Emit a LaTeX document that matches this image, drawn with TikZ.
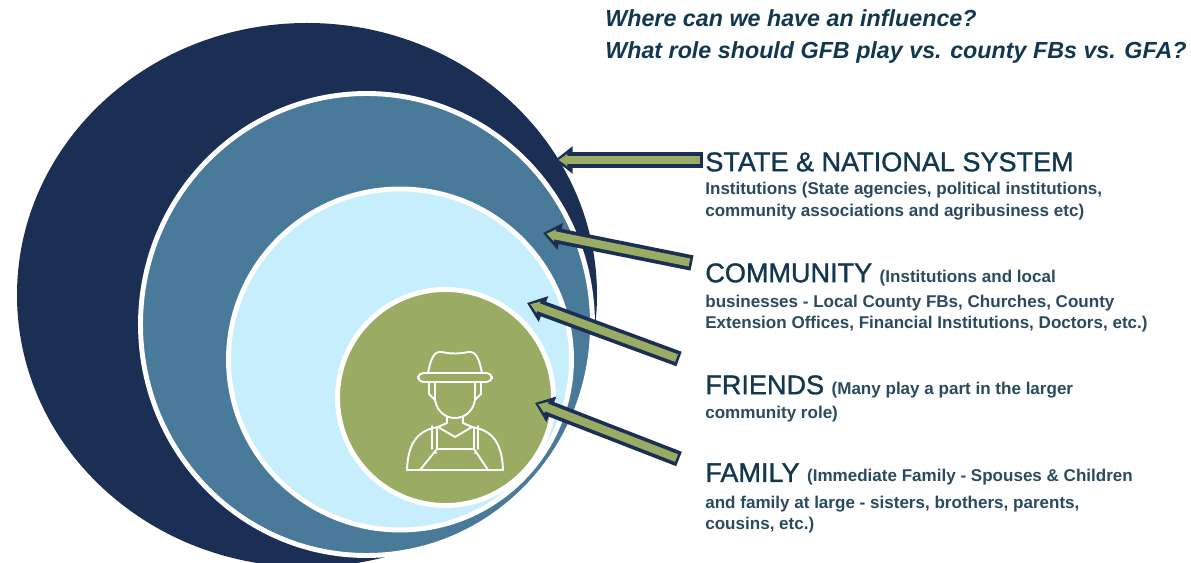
\documentclass[tikz,border=0pt]{standalone}
\usepackage{fontspec}
\setmainfont{Liberation Sans}
\newfontfamily\headface[FakeBold=1.2]{Liberation Sans}
\usetikzlibrary{arrows.meta}
\definecolor{ringdark}{HTML}{1B2F55}
\definecolor{ringmid}{HTML}{4A7A99}
\definecolor{ringlight}{HTML}{C6EEFD}
\definecolor{ringolive}{HTML}{9AAB63}
\definecolor{headcol}{HTML}{12384F}
\definecolor{bodycol}{HTML}{2A4A5E}
\newcommand{\headfont}{\headface\fontsize{15.4}{18}\selectfont}
\newcommand{\bodyfont}{\normalfont\fontsize{9.7}{12.6}\selectfont\bfseries\color{bodycol}}
\tikzset{
  x=0.02cm, y=-0.02cm,
  ring/.style={draw=white, line width=2.8pt},
  labeltext/.style={anchor=north west, inner sep=0pt, align=left, text=headcol},
  titletext/.style={anchor=north west, inner sep=0pt, align=left, text=headcol,
    font=\fontsize{13.25}{18.1}\selectfont\bfseries\itshape},
  arrowback/.style={draw=ringdark, line width=8.8pt,
    -{Triangle[length=10pt,width=15pt]}},
  arrowfront/.style={draw=ringolive, line width=4.6pt, shorten >=2pt, shorten <=1.5pt,
    -{Triangle[length=5pt,width=6.5pt]}},
  farmer/.style={draw=white, line width=1.1pt, line join=round, line cap=round},
}
\begin{document}
\begin{tikzpicture}
\useasboundingbox (0,0) rectangle (1191,563);
% circles
\fill[ringdark] (307,295) ellipse [x radius=290, y radius=272];
\filldraw[ring, fill=ringmid] (366.5,324.5) ellipse [x radius=226, y radius=231];
\filldraw[ring, fill=ringlight] (400,359.5) ellipse [x radius=171.5, y radius=170.5];
\filldraw[ring, fill=ringolive] (445.5,397.5) ellipse [x radius=108, y radius=108];
% farmer
\draw[farmer, rounded corners=3pt] (418,373) rectangle (492,382);
\draw[farmer] (428,373) .. controls (431,358) and (434,351) .. (442,352)
  .. controls (450,354) and (460,354) .. (468,352)
  .. controls (476,351) and (479,358) .. (482,373);
\draw[farmer] (435,382) -- (435,400)
  .. controls (437,412) and (446,418) .. (455,418)
  .. controls (464,418) and (473,412) .. (475,400) -- (475,382);
\draw[farmer] (429,383) -- (429,394) -- (435,400) (481,383) -- (481,394) -- (475,400);
\draw[farmer] (447,417) -- (447,423) -- (438,427)
  .. controls (420,430) and (408,440) .. (407,470) -- (503,470)
  .. controls (502,440) and (490,430) .. (472,427) -- (463,423) -- (463,417);
\draw[farmer] (438,427) -- (455,437) -- (472,427);
\draw[farmer] (432,426) -- (432,449) (478,426) -- (478,449);
\draw[farmer] (437,428) -- (437,449) -- (474,449) -- (474,428);
\draw[farmer] (437,449) -- (420,470) (474,449) -- (488,470);
\fill[white] (436,453) circle [radius=1.2];
\fill[white] (475,453) circle [radius=1.2];
% texts
\node[titletext] (question) at (605,9) {Where can we have an influence?\\What role should GFB play vs. county FBs vs. GFA?};
\node[labeltext] (state) at (705,152) {\headfont STATE \& NATIONAL SYSTEM\\[1.5pt]
  \bodyfont Institutions (State agencies, political institutions,\\
  \bodyfont community associations and agribusiness etc)};
\node[labeltext] (community) at (705,263) {\headfont COMMUNITY {\bodyfont (Institutions and local}\\[2.5pt]
  \bodyfont businesses - Local County FBs, Churches, County\\
  \bodyfont Extension Offices, Financial Institutions, Doctors, etc.)};
\node[labeltext] (friends) at (705,375) {\headfont FRIENDS {\bodyfont (Many play a part in the larger}\\[2pt]
  \bodyfont community role)};
\node[labeltext] (family) at (705,463) {\headfont FAMILY {\bodyfont (Immediate Family - Spouses \& Children}\\[3pt]
  \bodyfont and family at large - sisters, brothers, parents,\\
  \bodyfont cousins, etc.)};
% arrows
\coordinate (stateTip) at (555,160);
\coordinate (stateTail) at (703,160);
\coordinate (communityTip) at (543,233);
\coordinate (communityTail) at (692,263);
\coordinate (friendsTip) at (527,303);
\coordinate (friendsTail) at (679,359);
\coordinate (familyTip) at (535,403);
\coordinate (familyTail) at (679,459);
\foreach \nm in {state,community,friends,family}{
  \draw[arrowback] (\nm Tail) -- (\nm Tip);
  \draw[arrowfront] (\nm Tail) -- (\nm Tip);
}
\end{tikzpicture}
\end{document}
